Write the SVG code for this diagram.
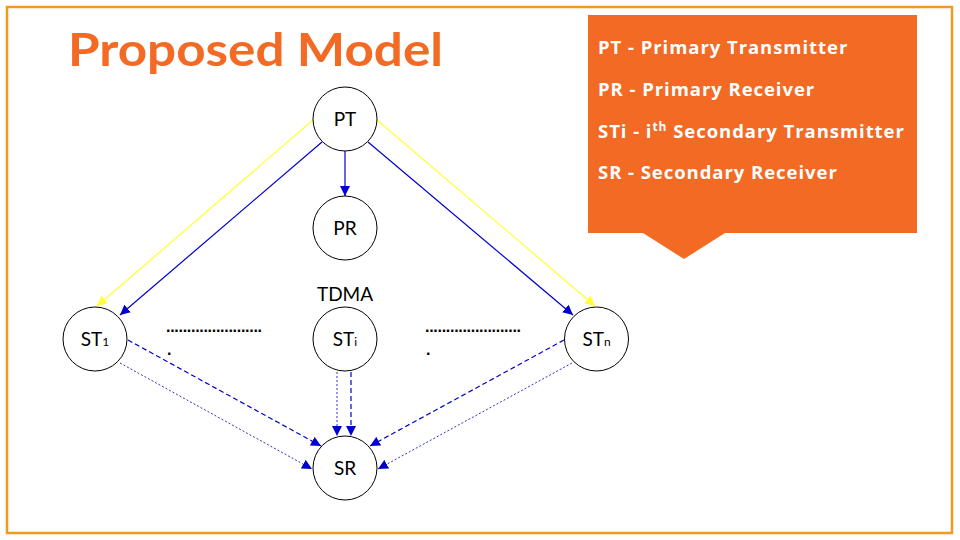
<svg xmlns="http://www.w3.org/2000/svg" width="960" height="540" viewBox="0 0 960 540">
  <style>
    .node circle { fill: #ffffff; stroke: #000000; stroke-width: 1; }
    .lbl { font-family: Lato, "Open Sans", "Liberation Sans", sans-serif; font-size: 19px; fill: #000000; text-anchor: middle; }
    .sub { font-size: 12px; }
    .legend { font-family: "Open Sans", Lato, "Liberation Sans", sans-serif; font-weight: bold; font-size: 18.5px; letter-spacing: 0.95px; fill: #ffffff; }
    .sup { font-size: 12px; }
    .dots { font-family: "Liberation Sans", sans-serif; font-weight: bold; font-size: 16px; fill: #000000; }
    .yel { stroke: #FFFF33; stroke-width: 1.2; fill: none; }
    .blu { stroke: #0000CC; stroke-width: 1.2; fill: none; }
    .dash { stroke: #0000CC; stroke-width: 1.2; fill: none; stroke-dasharray: 5 3; }
    .dot { stroke: #3333CC; stroke-width: 1; fill: none; stroke-dasharray: 2 2; }
  </style>
  <defs>
    <marker id="ahY" viewBox="0 0 10 10" refX="10" refY="5" markerWidth="10" markerHeight="10" markerUnits="userSpaceOnUse" orient="auto">
      <path d="M0,0 L10,5 L0,10 z" fill="#FFFF33"/>
    </marker>
    <marker id="ahB" viewBox="0 0 10 10" refX="10" refY="5" markerWidth="10" markerHeight="10" markerUnits="userSpaceOnUse" orient="auto">
      <path d="M0,0 L10,5 L0,10 z" fill="#0000CC"/>
    </marker>
  </defs>

  <!-- page frame -->
  <rect x="7" y="7" width="945" height="526" fill="#ffffff" stroke="#F39A1E" stroke-width="2.5"/>

  <!-- title -->
  <text x="68" y="66" font-family="Lato, 'Open Sans', 'Liberation Sans', sans-serif" font-weight="bold" font-size="46" fill="#F26A24" textLength="375" lengthAdjust="spacingAndGlyphs">Proposed Model</text>

  <!-- legend callout -->
  <g id="legend">
    <path d="M588,15 H917 V233 H725 L684,259 L643,233 H588 Z" fill="#F26A24"/>
    <text class="legend" x="598" y="54">PT - Primary Transmitter</text>
    <text class="legend" x="598" y="96">PR - Primary Receiver</text>
    <text class="legend" x="598" y="138">STi - i<tspan class="sup" dy="-7">th</tspan><tspan dy="7"> Secondary Transmitter</tspan></text>
    <text class="legend" x="598" y="179">SR - Secondary Receiver</text>
  </g>

  <!-- connectors -->
  <g id="connectors">
    <line class="yel" x1="313" y1="120" x2="97" y2="306" marker-end="url(#ahY)"/>
    <line class="yel" x1="377" y1="120" x2="595" y2="306" marker-end="url(#ahY)"/>
    <line class="blu" x1="322" y1="142" x2="120" y2="315" marker-end="url(#ahB)"/>
    <line class="blu" x1="368" y1="142" x2="573" y2="315" marker-end="url(#ahB)"/>
    <line class="blu" x1="345" y1="151" x2="345" y2="196" marker-end="url(#ahB)"/>
    <line class="dash" x1="128" y1="340" x2="321" y2="446" marker-end="url(#ahB)"/>
    <line class="dot" x1="120" y1="363" x2="312" y2="469" marker-end="url(#ahB)"/>
    <line class="dot" x1="337" y1="372" x2="337" y2="436" marker-end="url(#ahB)"/>
    <line class="dash" x1="351" y1="372" x2="351" y2="436" marker-end="url(#ahB)"/>
    <line class="dash" x1="564" y1="340" x2="370" y2="446" marker-end="url(#ahB)"/>
    <line class="dot" x1="572" y1="363" x2="378" y2="469" marker-end="url(#ahB)"/>
  </g>

  <!-- nodes -->
  <g id="PT" class="node">
    <circle cx="345" cy="119" r="32"/>
    <text class="lbl" x="345" y="126">PT</text>
  </g>
  <g id="PR" class="node">
    <circle cx="345" cy="228" r="32"/>
    <text class="lbl" x="345" y="235">PR</text>
  </g>
  <g id="ST1" class="node">
    <circle cx="95" cy="339" r="32"/>
    <text class="lbl" x="95" y="346">ST<tspan class="sub">1</tspan></text>
  </g>
  <g id="STi" class="node">
    <text class="lbl" x="345" y="301">TDMA</text>
    <circle cx="345" cy="339" r="32"/>
    <text class="lbl" x="345" y="346">ST<tspan class="sub">i</tspan></text>
  </g>
  <g id="STn" class="node">
    <circle cx="596.5" cy="339" r="32"/>
    <text class="lbl" x="596.5" y="346">ST<tspan class="sub">n</tspan></text>
  </g>
  <g id="SR" class="node">
    <circle cx="345" cy="468" r="32"/>
    <text class="lbl" x="345" y="475">SR</text>
  </g>

  <!-- ellipsis marks between transmitters -->
  <text class="dots" x="166" y="332" textLength="96" lengthAdjust="spacing">.......................</text>
  <text class="dots" x="167" y="355">.</text>
  <text class="dots" x="425" y="332" textLength="96" lengthAdjust="spacing">.......................</text>
  <text class="dots" x="426" y="355">.</text>
</svg>
